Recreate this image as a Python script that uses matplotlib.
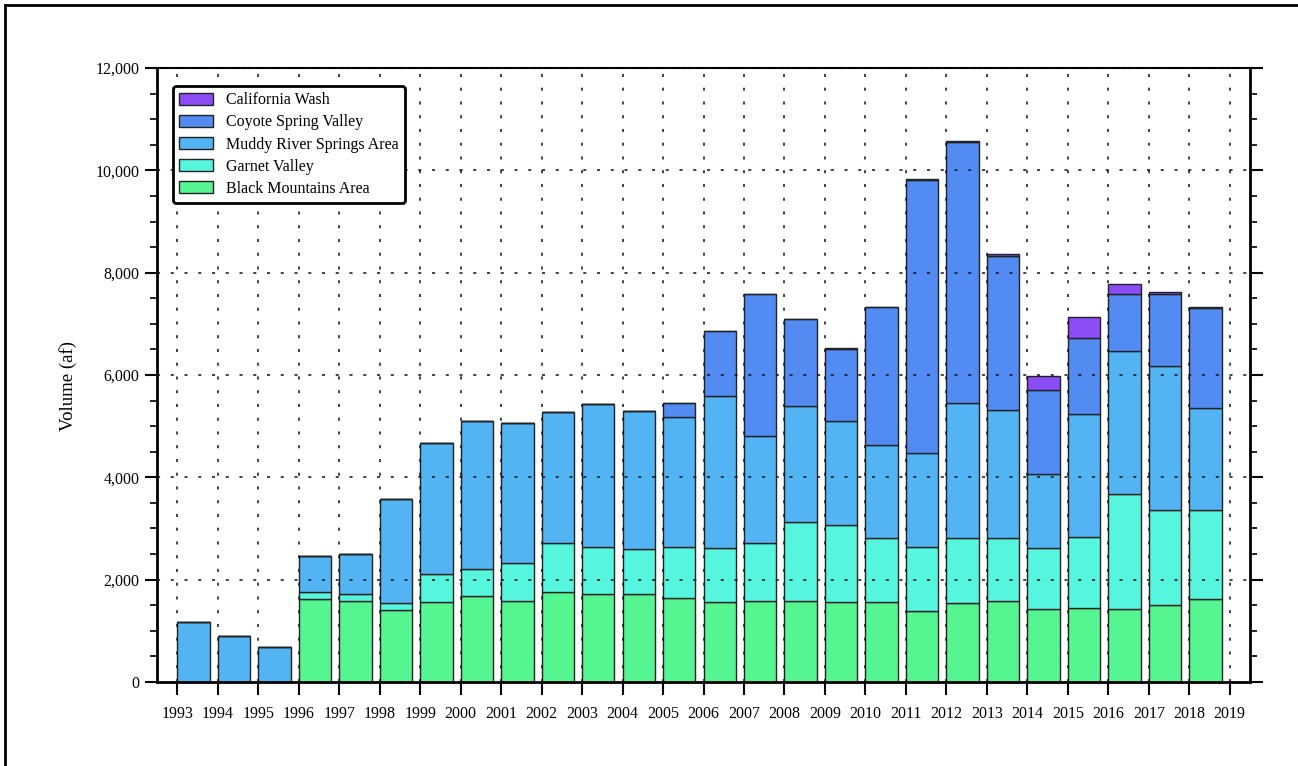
import numpy as np
import matplotlib
matplotlib.use("Agg")
import matplotlib.pyplot as plt
from matplotlib.lines import Line2D
from matplotlib.ticker import FuncFormatter, MultipleLocator

plt.rcParams['font.family'] = ['Liberation Serif', 'DejaVu Serif']

years = list(range(1993, 2019))

# stacked components (af), bottom to top
black_mountains = [0, 0, 0, 1620, 1580, 1410, 1560, 1690, 1590, 1750, 1710, 1710, 1640,
                   1560, 1580, 1590, 1560, 1560, 1390, 1550, 1590, 1430, 1450, 1430, 1510, 1620]
garnet_valley = [0, 0, 0, 130, 130, 130, 550, 510, 730, 960, 920, 880, 990,
                 1060, 1140, 1540, 1510, 1250, 1250, 1260, 1230, 1190, 1390, 2240, 1860, 1750]
muddy_river = [1180, 900, 690, 720, 800, 2040, 2570, 2900, 2750, 2570, 2810, 2710, 2550,
               2960, 2090, 2270, 2040, 1830, 1830, 2640, 2500, 1440, 2400, 2800, 2810, 1980]
coyote_spring = [0, 0, 0, 0, 0, 0, 0, 0, 0, 0, 0, 0, 265,
                 1280, 2780, 1700, 1400, 2680, 5340, 5100, 3000, 1640, 1490, 1110, 1400, 1960]
california_wash = [0, 0, 0, 0, 0, 0, 0, 0, 0, 0, 0, 0, 0,
                   0, 0, 0, 15, 15, 20, 15, 50, 290, 410, 200, 45, 20]

series = [
    ("Black Mountains Area", black_mountains, "#55F592"),
    ("Garnet Valley", garnet_valley, "#55F5DE"),
    ("Muddy River Springs Area", muddy_river, "#52B4F2"),
    ("Coyote Spring Valley", coyote_spring, "#528CF2"),
    ("California Wash", california_wash, "#8B4CF5"),
]

fig = plt.figure(figsize=(12.98, 7.66), dpi=100)
ax = fig.add_axes([0.121, 0.1097, 0.842, 0.8015])

x = np.array(years)
bottom = np.zeros(len(years))
handles = []
for name, vals, color in series:
    vals = np.array(vals, dtype=float)
    b = ax.bar(x, vals, width=0.8, bottom=bottom, align='edge', color=color,
               edgecolor='#222222', linewidth=1.0, label=name)
    handles.append(b)
    bottom += vals

ax.set_xlim(1992.5, 2019.5)
ax.set_ylim(0, 12000)
ax.set_xticks(range(1993, 2020))
ax.set_xticklabels([str(y) for y in range(1993, 2020)], fontsize=11.5)
ax.yaxis.set_major_locator(MultipleLocator(2000))
ax.yaxis.set_minor_locator(MultipleLocator(500))
ax.yaxis.set_major_formatter(FuncFormatter(lambda v, p: f"{int(v):,}"))
ax.tick_params(axis='y', labelsize=11.5, direction='out', length=9, width=1.5,
               right=True, which='major')
ax.tick_params(axis='y', direction='out', length=5, width=1.2, right=True, which='minor')
ax.tick_params(axis='x', direction='out', length=9, width=1.5, pad=8)
ax.set_ylabel("Volume (af)", fontsize=13.5)
ax.yaxis.set_label_coords(-0.073, 0.482)

for s in ['left', 'bottom', 'right']:
    ax.spines[s].set_linewidth(2)
ax.spines['top'].set_linewidth(1.5)

ax.set_axisbelow(False)
ax.grid(True, which='major', color='#111111', linestyle=(0, (2, 7)), linewidth=1.1)

leg = ax.legend(handles=handles[::-1], loc='upper left', bbox_to_anchor=(0.0146, 0.9707),
                borderaxespad=0, fontsize=11.5, frameon=True, fancybox=True, framealpha=1,
                edgecolor='black', handlelength=2.1, handleheight=0.75,
                labelspacing=0.38, borderpad=0.4, handletextpad=0.8)
leg.get_frame().set_linewidth(2)

# outer border (top and left visible)
fig.add_artist(Line2D([0.0038, 1.0], [0.9935, 0.9935], color='black', linewidth=2,
                      transform=fig.transFigure))
fig.add_artist(Line2D([0.0038, 0.0038], [0.0, 0.9935], color='black', linewidth=2,
                      transform=fig.transFigure))

fig.savefig("out.png", dpi=100)
